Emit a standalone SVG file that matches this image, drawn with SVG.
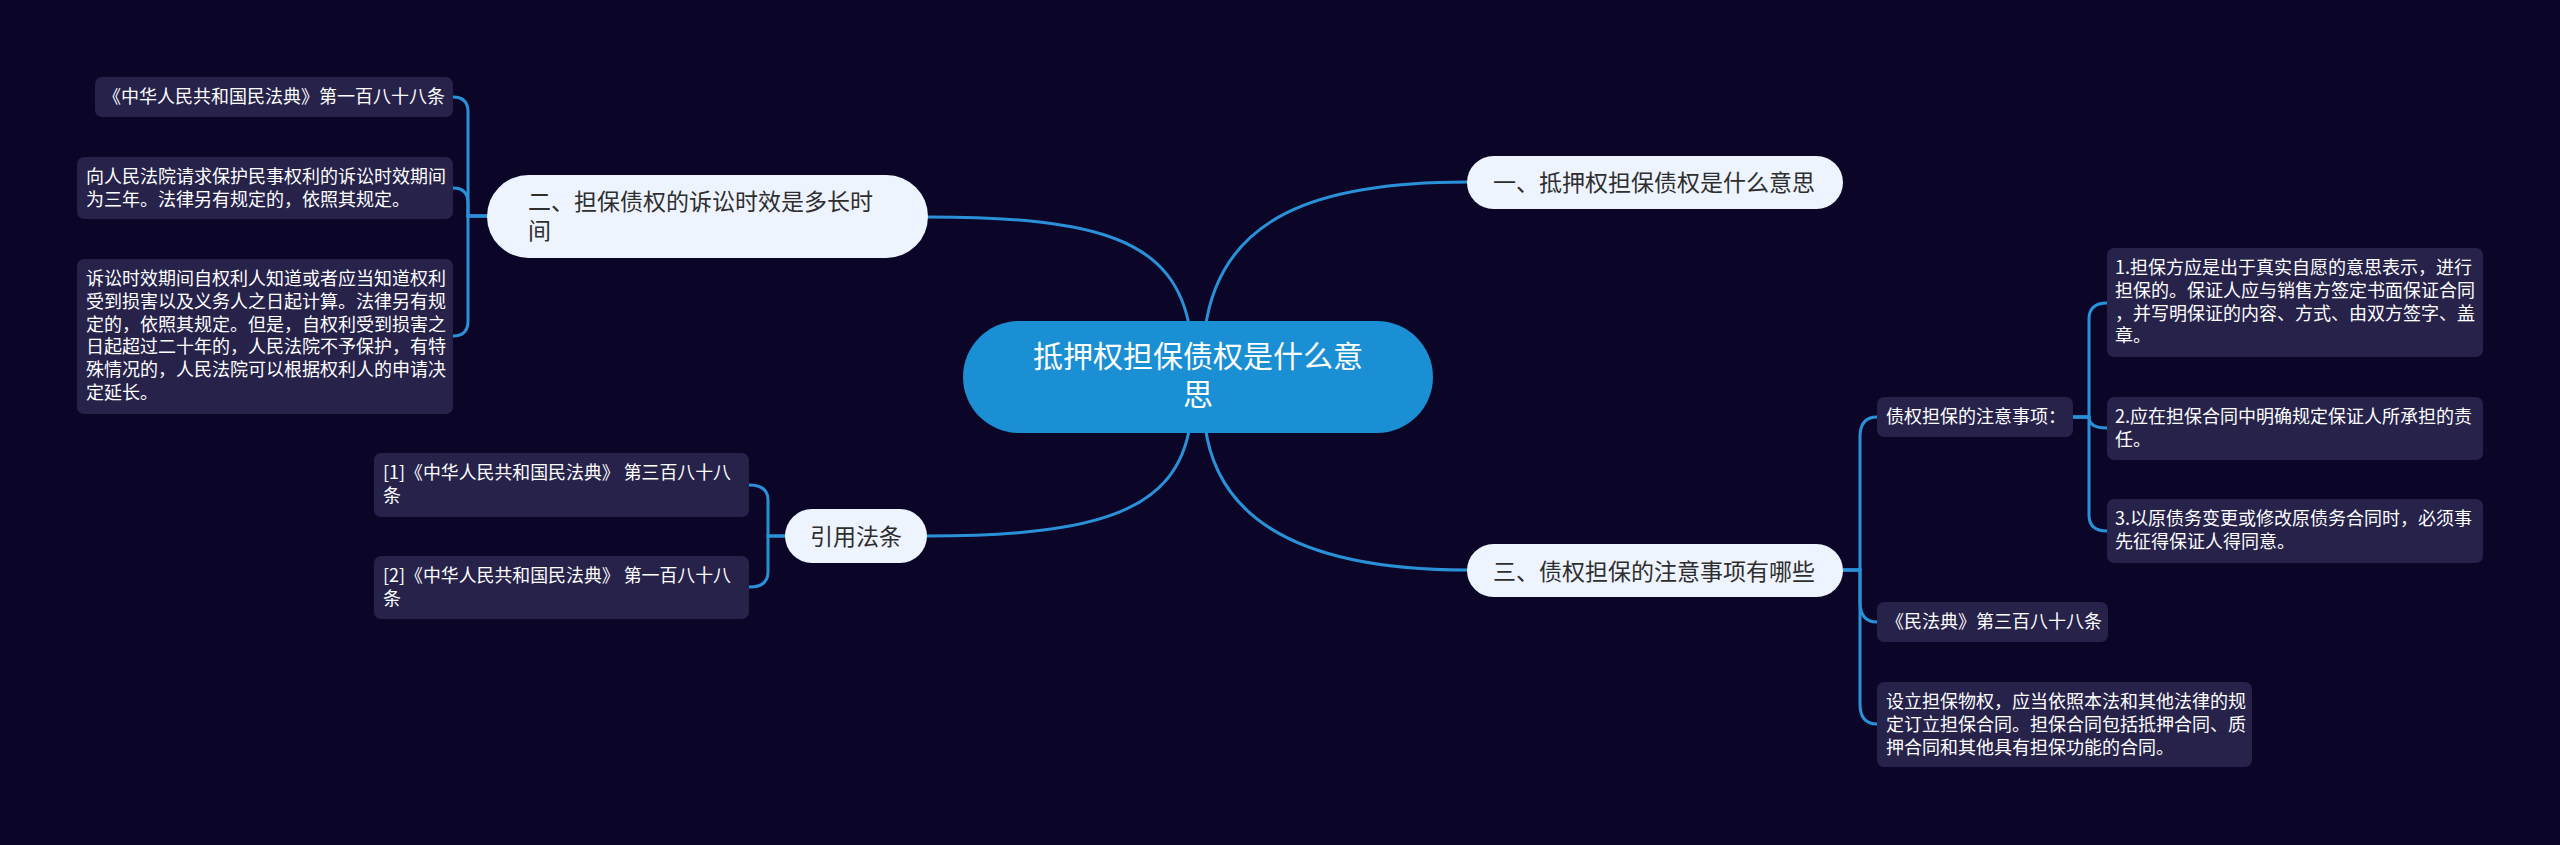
<svg xmlns="http://www.w3.org/2000/svg" width="2560" height="845" viewBox="0 0 2560 845">
<style>
text{font-family:"Noto Sans CJK SC","Noto Sans",sans-serif;}
.conn{fill:none;stroke:#2a91d8;stroke-width:3;stroke-linecap:round;}
.box{fill:#26224a;}
.bt{font-size:18px;fill:#ffffff;}
.pill{fill:#eef4fe;}
.pt{font-size:23px;fill:#2e2e2e;}
.root{fill:#1a8fd3;}
.rt{font-size:30px;fill:#ffffff;text-anchor:middle;}
</style>
<rect x="0" y="0" width="2560" height="845" fill="#0b0628"/>
<g id="connectors">
<path class="conn" d="M1205,330 C1220,215 1320,182 1467,182"/>
<path class="conn" d="M1190,330 C1175,240 1100,217 928,217"/>
<path class="conn" d="M1205,425 C1218,530 1320,570 1467,570"/>
<path class="conn" d="M1190,425 C1177,510 1100,536 927,536"/>
<path class="conn" d="M487,216 H468 V112 Q468,97 453,97"/>
<path class="conn" d="M487,216 H468 V203 Q468,188 453,188"/>
<path class="conn" d="M487,216 H468 V321 Q468,336 453,336"/>
<path class="conn" d="M785,536 H768 V500 Q768,485 749,485"/>
<path class="conn" d="M785,536 H768 V572 Q768,587 749,587"/>
<path class="conn" d="M1843,570 H1860 V437 Q1860,417 1877,417"/>
<path class="conn" d="M1843,570 H1860 V602 Q1860,622 1877,622"/>
<path class="conn" d="M1843,570 H1860 V704 Q1860,724 1877,724"/>
<path class="conn" d="M2073,417 H2089 V319 Q2089,303 2107,303"/>
<path class="conn" d="M2073,417 H2089 V417 Q2089,428 2107,428"/>
<path class="conn" d="M2073,417 H2089 V515 Q2089,531 2107,531"/>
</g>
<g id="root">
<rect class="root" x="963" y="321" width="470" height="112" rx="56"/>
<text class="rt" x="1198" y="367">抵押权担保债权是什么意</text>
<text class="rt" x="1198" y="405">思</text>
</g>
<g id="n1">
<rect class="pill" x="1467" y="156" width="376" height="53" rx="26.5"/>
<text class="pt" x="1493" y="191">一、抵押权担保债权是什么意思</text>
</g>
<g id="n2">
<rect class="pill" x="487" y="175" width="441" height="83" rx="41.5"/>
<text class="pt" x="528" y="210">二、担保债权的诉讼时效是多长时</text>
<text class="pt" x="528" y="239">间</text>
</g>
<g id="n3">
<rect class="pill" x="1467" y="544" width="376" height="53" rx="26.5"/>
<text class="pt" x="1493" y="580">三、债权担保的注意事项有哪些</text>
</g>
<g id="n4">
<rect class="pill" x="785" y="509" width="142" height="54" rx="27"/>
<text class="pt" x="856" y="545" style="text-anchor:middle">引用法条</text>
</g>
<g id="n2a">
<rect class="box" x="95" y="77" width="358" height="40" rx="7"/>
<text class="bt" x="103" y="103">《中华人民共和国民法典》第一百八十八条</text>
</g>
<g id="n2b">
<rect class="box" x="77" y="157" width="376" height="62" rx="7"/>
<text class="bt" x="86" y="183">向人民法院请求保护民事权利的诉讼时效期间</text>
<text class="bt" x="86" y="206">为三年。法律另有规定的，依照其规定。</text>
</g>
<g id="n2c">
<rect class="box" x="77" y="259" width="376" height="155" rx="7"/>
<text class="bt" x="86" y="285">诉讼时效期间自权利人知道或者应当知道权利</text>
<text class="bt" x="86" y="308">受到损害以及义务人之日起计算。法律另有规</text>
<text class="bt" x="86" y="331">定的，依照其规定。但是，自权利受到损害之</text>
<text class="bt" x="86" y="353">日起超过二十年的，人民法院不予保护，有特</text>
<text class="bt" x="86" y="376">殊情况的，人民法院可以根据权利人的申请决</text>
<text class="bt" x="86" y="399">定延长。</text>
</g>
<g id="n4a">
<rect class="box" x="374" y="453" width="375" height="64" rx="7"/>
<text class="bt" x="383" y="479" textLength="348" lengthAdjust="spacingAndGlyphs">[1]《中华人民共和国民法典》 第三百八十八</text>
<text class="bt" x="383" y="502">条</text>
</g>
<g id="n4b">
<rect class="box" x="374" y="556" width="375" height="63" rx="7"/>
<text class="bt" x="383" y="582" textLength="348" lengthAdjust="spacingAndGlyphs">[2]《中华人民共和国民法典》 第一百八十八</text>
<text class="bt" x="383" y="605">条</text>
</g>
<g id="n3a">
<rect class="box" x="1877" y="397" width="196" height="40" rx="7"/>
<text class="bt" x="1886" y="423">债权担保的注意事项：</text>
</g>
<g id="n3a1">
<rect class="box" x="2107" y="248" width="376" height="109" rx="7"/>
<text class="bt" x="2115" y="274">1.担保方应是出于真实自愿的意思表示，进行</text>
<text class="bt" x="2115" y="297">担保的。保证人应与销售方签定书面保证合同</text>
<text class="bt" x="2115" y="320">，并写明保证的内容、方式、由双方签字、盖</text>
<text class="bt" x="2115" y="342">章。</text>
</g>
<g id="n3a2">
<rect class="box" x="2107" y="397" width="376" height="63" rx="7"/>
<text class="bt" x="2115" y="423">2.应在担保合同中明确规定保证人所承担的责</text>
<text class="bt" x="2115" y="446">任。</text>
</g>
<g id="n3a3">
<rect class="box" x="2107" y="499" width="376" height="64" rx="7"/>
<text class="bt" x="2115" y="525">3.以原债务变更或修改原债务合同时，必须事</text>
<text class="bt" x="2115" y="548">先征得保证人得同意。</text>
</g>
<g id="n3b">
<rect class="box" x="1877" y="602" width="231" height="40" rx="7"/>
<text class="bt" x="1886" y="628">《民法典》第三百八十八条</text>
</g>
<g id="n3c">
<rect class="box" x="1877" y="682" width="375" height="85" rx="7"/>
<text class="bt" x="1886" y="708">设立担保物权，应当依照本法和其他法律的规</text>
<text class="bt" x="1886" y="731">定订立担保合同。担保合同包括抵押合同、质</text>
<text class="bt" x="1886" y="754">押合同和其他具有担保功能的合同。</text>
</g>
</svg>
